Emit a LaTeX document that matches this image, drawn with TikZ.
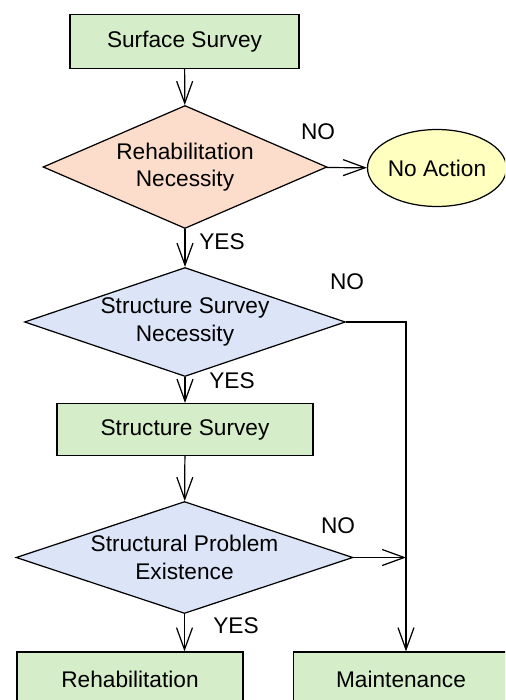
\documentclass[tikz,border=0pt]{standalone}
\usepackage{fontspec}
\setmainfont{Liberation Sans}
\usepackage{tikz}
\usetikzlibrary{arrows.meta,shapes.geometric}
\definecolor{boxGreen}{HTML}{D5EDC8}
\definecolor{decPink}{HTML}{FCDCCB}
\definecolor{decBlue}{HTML}{DCE4F8}
\definecolor{endYellow}{HTML}{FFFFC0}
\tikzset{task/.style={rectangle, draw, fill=boxGreen, line width=.7pt,
  inner sep=0pt}}
\tikzset{dec/.style={diamond, draw, line width=.7pt, aspect=3,
  inner sep=-1.5mm, align=center}}
\tikzset{term/.style={ellipse, draw, fill=endYellow, line width=.7pt,
  inner sep=0pt}}
\tikzset{a/.style={draw, line width=.7pt,
  -{Straight Barb[length=4.4mm,width=3.2mm]}}}
\tikzset{ln/.style={draw, line width=.7pt}}

\begin{document}
\begin{tikzpicture}[x=.02cm,y=-.02cm]
        \tikzstyle{every node}=[font=\fontsize{12.9}{15.5}\selectfont]
        \clip (0,0) rectangle (505,700);
        %% boxes
        \node (surf) at (184.5,41.5) [task, minimum width=4.58cm,
            minimum height=1.08cm] {Surface Survey};
        \node (rn) at (185,167) [dec, fill=decPink, minimum width=5.68cm,
            minimum height=2.46cm] {Rehabilitation\\Necessity};
        \node (noact) at (437,168) [term, minimum width=2.68cm,
            minimum height=1.54cm] {No Action};
        \node (ssn) at (185,322) [dec, fill=decBlue, minimum width=6.42cm,
            minimum height=2.18cm] {Structure Survey\\Necessity};
        \node (ss) at (185,429.5) [task, minimum width=5.12cm,
            minimum height=1.04cm] {Structure Survey};
        \node (spe) at (184.5,557.5) [dec, fill=decBlue, minimum width=6.74cm,
            minimum height=2.24cm] {Structural Problem\\Existence};
        \node (rehab) at (130,679) [task, minimum width=4.52cm,
            minimum height=1.08cm] {Rehabilitation};
        \node (maint) at (401,679) [task, minimum width=4.3cm,
            minimum height=1.08cm] {Maintenance};
        \coordinate (j) at (406,557.5);
        %% labels
        \node (no1) at (318,132) {NO};
        \node (yes1) at (222,242) {YES};
        \node (no2) at (347,282) {NO};
        \node (yes2) at (232,381) {YES};
        \node (no3) at (338,526) {NO};
        \node (yes3) at (236,626) {YES};
        %% arrows
        \draw [a] (surf) to (rn);
        \draw [a] (rn) to (noact);
        \draw [a] (rn) to (ssn);
        \draw [a] (ssn) to (ss);
        \draw [a] (ss) to (spe);
        \draw [a] (spe.south) to (spe.south |- rehab.north);
        \draw [ln] (ssn.east) -| (j);
        \draw [a] (spe.east) to (j);
        \draw [a] (j) to (j |- maint.north);
    \end{tikzpicture}
\end{document}
